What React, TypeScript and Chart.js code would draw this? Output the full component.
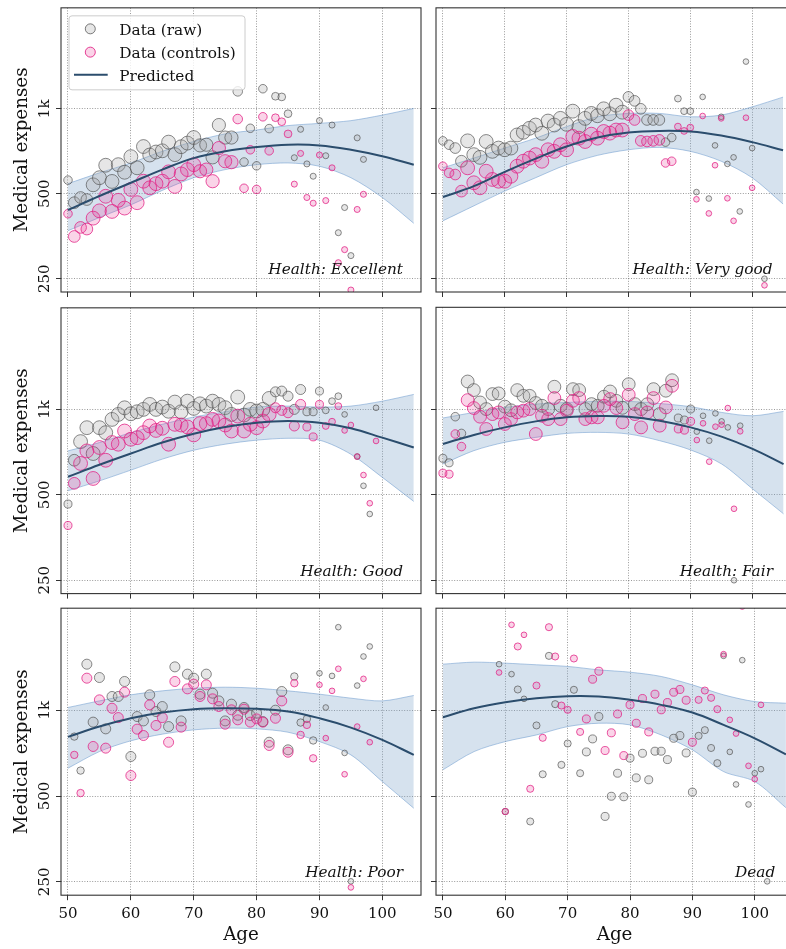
import React, { useEffect, useRef } from 'react';
import { Chart, registerables } from 'chart.js';
Chart.register(...registerables);

// ---------- axes ----------
const AGE_MIN = 48.887;
const AGE_MAX = 106.15;
const EXP_MIN = 224.4;
const EXP_MAX = 2279;
const xTickValues = [50, 60, 70, 80, 90, 100];
const xTickLabels = ['50', '60', '70', '80', '90', '100'];
const yTickValues = [250, 500, 1000];
const yTickLabels = ['250', '500', '1k'];
const curveAges = [50, 55, 60, 65, 70, 75, 80, 85, 90, 95, 100, 105];

// ---------- Health: Excellent ----------
const excellentAges = [50,51,52,53,54,55,56,57,58,59,60,61,62,63,64,65,66,67,68,69,70,71,72,73,74,75,76,77,78,79,80,81,82,83,84,85,86,87,88,89,90,91,92,93,94,95,96,97];
const excellentRaw = [559,465,485,477,538,570,631,553,634,596,677,618,735,686,703,710,762,688,734,756,791,742,746,673,876,791,791,1153,648,853,628,1178,851,1108,1102,961,671,846,638,577,908,682,876,364,447,302,789,662];
const excellentControls = [425,353,380,375,410,435,490,433,474,445,518,465,554,525,543,554,598,531,588,609,634,601,609,554,726,652,647,920,523,716,518,937,710,930,900,815,541,695,485,463,686,473,618,285,317,228,440,498];
const excellentCounts = [16,30,30,30,42,42,42,42,42,42,42,42,42,42,42,42,42,42,42,42,42,38,38,38,38,38,38,20,16,16,16,16,16,13,13,13,8,8,8,8,8,8,8,8,8,8,8,8];
const excellentPred = [438,491,547,609,669,707,732,746,742,716,679,634];
const excellentUpper = [543,593,643,707,766,815,841,872,888,908,950,1003];
const excellentLower = [370,412,457,514,570,609,634,643,626,570,485,393];

// ---------- Health: Very good ----------
const veryGoodAges = [50,51,52,53,54,55,56,57,58,59,60,61,62,63,64,65,66,67,68,69,70,71,72,73,74,75,76,77,78,79,80,81,82,83,84,85,86,87,88,89,90,91,92,93,94,95,96,97,98,99,100,101,102];
const veryGoodRaw = [770,746,726,652,770,688,673,766,707,726,716,726,808,826,853,876,819,905,876,925,881,981,865,925,963,945,1000,960,1030,973,1102,1067,1000,913,913,913,762,791,1087,981,981,507,1102,481,742,937,638,673,433,1470,726,null,250];
const veryGoodControls = [626,593,585,511,618,547,525,601,562,554,554,577,626,652,669,688,652,716,707,746,716,798,787,766,813,787,831,820,841,841,950,913,770,766,770,776,643,652,865,835,858,478,943,426,631,925,482,401,null,930,525,null,237];
const veryGoodCounts = [16,20,25,30,42,42,42,42,42,42,42,42,42,42,42,42,42,42,42,42,42,42,42,42,42,42,42,42,42,42,25,25,25,25,25,25,16,16,10,10,10,7,7,7,7,7,7,7,7,7,7,7,7];
const veryGoodPred = [487,532,598,666,735,791,824,835,831,804,762,713];
const veryGoodUpper = [618,669,726,787,865,937,963,963,937,950,1016,1100];
const veryGoodLower = [401,453,511,570,634,684,716,730,707,652,570,460];

// ---------- Health: Good ----------
const goodAges = [50,51,52,53,54,55,56,57,58,59,60,61,62,63,64,65,66,67,68,69,70,71,72,73,74,75,76,77,78,79,80,81,82,83,84,85,86,87,88,89,90,91,92,93,94,95,96,97,98,99];
const goodRaw = [464,662,770,862,699,862,828,922,960,1013,965,981,1000,1041,1000,1019,985,1061,981,1069,1008,1046,1027,1069,1041,1014,960,1105,955,1000,987,1000,1093,1153,1160,1113,1000,1175,981,981,1160,992,1069,1113,960,null,682,538,428,1013];
const goodControls = [390,549,645,714,571,734,662,764,754,839,785,795,828,874,843,858,754,886,881,867,813,891,891,922,910,881,839,947,839,886,862,910,960,1013,992,973,874,1041,867,800,1041,874,905,1027,843,881,682,587,467,774];
const goodCounts = [14,30,42,42,42,42,42,42,42,42,42,42,42,42,42,42,42,42,42,42,42,42,42,42,42,42,42,42,42,42,42,42,42,22,22,22,22,22,14,14,14,10,10,10,7,7,7,7,7,7];
const goodPred = [579,638,699,764,821,867,898,910,898,858,795,734];
const goodUpper = [714,764,828,886,940,981,1019,1027,1019,1027,1069,1129];
const goodLower = [517,560,611,668,718,754,779,791,779,695,576,474];

// ---------- Health: Fair ----------
const fairAges = [50,51,52,53,54,55,56,57,58,59,60,61,62,63,64,65,66,67,68,69,70,71,72,73,74,75,76,77,78,79,80,81,82,83,84,85,86,87,88,89,90,91,92,93,94,95,96,97,98];
const fairRaw = [671,647,940,821,1250,1166,1055,1000,1129,1135,1020,990,1166,1113,1113,1050,1027,1000,1198,1027,1000,1175,1166,1000,1041,1027,1105,1153,1069,1010,1223,1041,1000,1040,1175,960,1160,1263,930,915,1000,833,947,774,966,905,862,250,874];
const fairControls = [595,590,817,738,1075,1008,940,851,960,973,886,922,973,987,1000,817,947,922,1093,922,987,1069,1093,922,935,935,1027,1084,1008,898,1123,960,862,973,1093,874,1013,1207,851,843,905,778,891,653,867,881,1008,446,835];
const fairCounts = [14,14,16,16,36,36,36,36,36,36,36,36,36,36,36,36,36,36,36,36,36,36,36,36,36,36,36,36,36,36,36,36,36,36,36,36,36,36,14,14,14,7,7,7,7,7,7,7,7];
const fairPred = [754,811,862,905,935,945,940,910,862,800,724,640];
const fairUpper = [930,973,1013,1041,1055,1064,1064,1046,1019,973,947,981];
const fairLower = [641,714,764,795,821,828,817,774,718,641,524,428];

// ---------- Health: Poor ----------
const poorAges = [51,52,53,54,55,56,57,58,59,60,61,62,63,64,65,66,67,68,69,70,71,72,73,74,75,76,77,78,79,80,81,82,83,84,85,86,87,88,89,90,91,92,93,94,95,96,97,98];
const poorRaw = [808,614,1450,908,1302,860,1117,1117,1261,688,950,917,1132,989,1030,876,1419,917,1338,1295,1138,1338,1147,1078,917,1050,960,1022,958,976,912,772,1000,1163,726,1313,905,932,783,1348,1022,1319,1955,708,251,1220,1543,1673];
const poorControls = [697,512,1295,746,1087,736,1016,942,1157,590,858,815,1044,884,942,772,1261,872,1188,1234,1117,1227,1096,1030,893,1003,925,1008,908,932,908,752,937,1078,712,1243,819,888,678,1227,798,1169,1397,596,239,876,1288,772];
const poorCounts = [12,12,22,22,22,22,22,22,22,22,22,22,22,22,22,22,22,22,22,22,22,22,22,22,22,22,22,22,22,22,22,22,22,22,22,12,12,12,12,7,7,7,7,7,7,7,7,7];
const poorPred = [806,876,937,981,1008,1016,1011,989,937,869,787,697];
const poorUpper = [1022,1078,1132,1169,1194,1204,1194,1169,1138,1102,1078,1126];
const poorLower = [626,716,781,824,853,865,860,837,776,697,562,453];

// ---------- Dead ----------
const deadAges = [59,60,61,62,63,64,65,66,67,68,69,70,71,72,73,74,75,76,77,78,79,80,81,82,83,84,85,86,87,88,89,90,91,92,93,94,95,96,97,98,99,100,101,102];
const deadRaw = [1450,441,1338,1182,1096,407,884,596,1551,1050,643,764,1179,601,714,793,950,424,499,601,497,679,579,706,570,718,718,671,797,815,708,516,813,851,737,652,1551,714,549,1498,467,601,621,251];
const deadControls = [1356,441,1993,1673,1838,530,1220,800,1955,1543,1038,1003,1518,839,932,1284,1370,722,833,970,693,1044,900,1099,839,1138,1003,1064,1156,1182,1084,772,1087,1172,1105,1008,1572,925,828,2310,638,573,1044,null];
const deadCounts = [7,9,7,11,7,11,11,11,11,11,11,11,11,11,14,14,14,14,14,14,14,14,14,14,14,14,14,14,14,14,14,14,11,11,11,11,7,7,7,7,7,7,7,7];
const deadPred = [945,1016,1067,1102,1120,1117,1087,1044,981,888,797,700];
const deadUpper = [1450,1474,1462,1443,1424,1385,1359,1313,1227,1132,1072,1058];
const deadLower = [618,716,776,819,876,900,888,819,726,609,562,455];

const legendLabels = ['Data (raw)', 'Data (controls)', 'Predicted'];

type Panel = {
  label: string; ages: number[]; raw: (number | null)[]; controls: (number | null)[];
  counts: number[]; pred: number[]; upper: number[]; lower: number[]; row: number; col: number;
};

const panels: Panel[] = [
  { label: 'Health: Excellent', ages: excellentAges, raw: excellentRaw, controls: excellentControls, counts: excellentCounts, pred: excellentPred, upper: excellentUpper, lower: excellentLower, row: 0, col: 0 },
  { label: 'Health: Very good', ages: veryGoodAges, raw: veryGoodRaw, controls: veryGoodControls, counts: veryGoodCounts, pred: veryGoodPred, upper: veryGoodUpper, lower: veryGoodLower, row: 0, col: 1 },
  { label: 'Health: Good', ages: goodAges, raw: goodRaw, controls: goodControls, counts: goodCounts, pred: goodPred, upper: goodUpper, lower: goodLower, row: 1, col: 0 },
  { label: 'Health: Fair', ages: fairAges, raw: fairRaw, controls: fairControls, counts: fairCounts, pred: fairPred, upper: fairUpper, lower: fairLower, row: 1, col: 1 },
  { label: 'Health: Poor', ages: poorAges, raw: poorRaw, controls: poorControls, counts: poorCounts, pred: poorPred, upper: poorUpper, lower: poorLower, row: 2, col: 0 },
  { label: 'Dead', ages: deadAges, raw: deadRaw, controls: deadControls, counts: deadCounts, pred: deadPred, upper: deadUpper, lower: deadLower, row: 2, col: 1 },
];

// ---------- style ----------
const RAW_FILL = 'rgba(165,165,165,0.28)';
const RAW_EDGE = 'rgba(80,80,80,0.75)';
const CTRL_FILL = 'rgba(231,41,138,0.2)';
const CTRL_EDGE = 'rgba(226,32,132,0.85)';
const BAND_FILL = 'rgba(120,160,200,0.30)';
const BAND_EDGE = 'rgba(110,155,205,0.55)';
const LINE_COLOR = '#2b4d6d';
const SERIF = '"DejaVu Serif", serif';
const RADIUS_SCALE = 1.07;

const PLOT_W = 360;
const PLOT_H = 287;
const colGeom = [
  { canvasLeft: 0, canvasW: 430, areaLeft: 61 },
  { canvasLeft: 428, canvasW: 370, areaLeft: 8 },
];
const rowGeom = [
  { canvasTop: 0, canvasH: 300, areaTop: 5 },
  { canvasTop: 300, canvasH: 302, areaTop: 6.6 },
  { canvasTop: 600, canvasH: 349, areaTop: 8.2 },
];

function points(ages: number[], vals: (number | null)[], counts: number[]) {
  const data: { x: number; y: number }[] = [];
  const radii: number[] = [];
  ages.forEach((a, i) => {
    const v = vals[i];
    if (v == null) return;
    data.push({ x: a, y: v });
    radii.push(Math.sqrt(counts[i]) * RADIUS_SCALE);
  });
  return { data, radii };
}

function PanelChart({ p, index }: { p: Panel; index: number }) {
  const ref = useRef<HTMLCanvasElement>(null);
  const cg = colGeom[p.col];
  const rg = rowGeom[p.row];
  useEffect(() => {
    if (!ref.current) return;
    const raw = points(p.ages, p.raw, p.counts);
    const ctrl = points(p.ages, p.controls, p.counts);
    const curve = (vals: number[]) => curveAges.map((a, i) => ({ x: a, y: vals[i] }));
    const padRight = cg.canvasW - cg.areaLeft - PLOT_W;
    const xAxisH = rg.canvasH - rg.areaTop - PLOT_H;

    const decor = {
      id: 'decor' + index,
      afterDraw(chart: any) {
        const { ctx, chartArea: a, scales } = chart;
        const x = scales.x, y = scales.y;
        ctx.save();
        ctx.strokeStyle = '#333';
        ctx.lineWidth = 1.1;
        ctx.setLineDash([]);
        ctx.strokeRect(a.left, a.top, a.right - a.left, a.bottom - a.top);
        ctx.fillStyle = '#111';
        ctx.font = 'italic 15.3px ' + SERIF;
        ctx.textAlign = 'right';
        ctx.textBaseline = 'alphabetic';
        ctx.fillText(p.label, a.left + 0.95 * (a.right - a.left), a.bottom - 0.05 * (a.bottom - a.top) - 3.6);
        if (p.col === 0) {
          ctx.font = '15px ' + SERIF;
          ctx.textAlign = 'center';
          yTickValues.forEach((v, i) => {
            const py = y.getPixelForValue(v);
            ctx.save();
            ctx.translate(a.left - 12.2, py);
            ctx.rotate(-Math.PI / 2);
            ctx.fillText(yTickLabels[i], 0, 0);
            ctx.restore();
          });
          ctx.font = '18.3px ' + SERIF;
          ctx.save();
          ctx.translate(a.left - 34.2, (a.top + a.bottom) / 2);
          ctx.rotate(-Math.PI / 2);
          ctx.fillText('Medical expenses', 0, 0);
          ctx.restore();
        }
        if (p.row === 2) {
          ctx.font = '15px ' + SERIF;
          ctx.textAlign = 'center';
          xTickValues.forEach((v, i) => {
            ctx.fillText(xTickLabels[i], x.getPixelForValue(v), a.bottom + 22.5);
          });
          ctx.font = '18.3px ' + SERIF;
          ctx.fillText('Age', (a.left + a.right) / 2, a.bottom + 45);
        }
        if (index === 0) {
          const bx = a.left + 8, by = a.top + 8, bw = 176, bh = 74;
          ctx.beginPath();
          if (ctx.roundRect) ctx.roundRect(bx, by, bw, bh, 3); else ctx.rect(bx, by, bw, bh);
          ctx.fillStyle = 'rgba(255,255,255,0.8)';
          ctx.fill();
          ctx.strokeStyle = '#cccccc';
          ctx.lineWidth = 1;
          ctx.stroke();
          const rows = [a.top + 21, a.top + 44.3, a.top + 67];
          const mx = a.left + 29.3;
          [[RAW_FILL, RAW_EDGE], [CTRL_FILL, CTRL_EDGE]].forEach(([f, e], i) => {
            ctx.beginPath();
            ctx.arc(mx, rows[i], 5, 0, Math.PI * 2);
            ctx.fillStyle = f; ctx.fill();
            ctx.strokeStyle = e; ctx.lineWidth = 1; ctx.stroke();
          });
          ctx.beginPath();
          ctx.moveTo(a.left + 13, rows[2]);
          ctx.lineTo(a.left + 46.7, rows[2]);
          ctx.strokeStyle = LINE_COLOR; ctx.lineWidth = 2; ctx.stroke();
          ctx.fillStyle = '#111';
          ctx.font = '15.3px ' + SERIF;
          ctx.textAlign = 'left';
          legendLabels.forEach((t, i) => ctx.fillText(t, a.left + 58.3, rows[i] + 5.7));
        }
        ctx.restore();
      },
    };

    const gridOpts = { color: 'rgba(0,0,0,0.5)', lineWidth: 0.8, drawTicks: true, tickLength: 5, tickColor: '#333', tickWidth: 1 };
    const borderOpts = { display: false, dash: [1, 1.6] };

    const chart = new Chart(ref.current, {
      type: 'scatter',
      data: {
        datasets: [
          { type: 'line', label: 'Predicted', data: curve(p.pred), borderColor: LINE_COLOR, borderWidth: 2, pointRadius: 0, tension: 0.4, fill: false, order: 0, clip: 0 } as any,
          { label: 'Data (controls)', data: ctrl.data, pointRadius: ctrl.radii, pointBackgroundColor: CTRL_FILL, pointBorderColor: CTRL_EDGE, pointBorderWidth: 0.9, order: 1, clip: 0 } as any,
          { label: 'Data (raw)', data: raw.data, pointRadius: raw.radii, pointBackgroundColor: RAW_FILL, pointBorderColor: RAW_EDGE, pointBorderWidth: 0.9, order: 2, clip: 0 } as any,
          { type: 'line', label: 'lower', data: curve(p.lower), borderColor: BAND_EDGE, borderWidth: 1, pointRadius: 0, tension: 0.3, fill: false, order: 3, clip: 0 } as any,
          { type: 'line', label: 'upper', data: curve(p.upper), borderColor: BAND_EDGE, borderWidth: 1, pointRadius: 0, tension: 0.3, fill: 3, backgroundColor: BAND_FILL, order: 3, clip: 0 } as any,
        ],
      },
      options: {
        responsive: false,
        animation: false,
        devicePixelRatio: 1,
        events: [],
        layout: { padding: { left: 0, right: padRight, top: rg.areaTop, bottom: 0 } },
        plugins: { legend: { display: false }, tooltip: { enabled: false } },
        scales: {
          x: {
            type: 'linear', min: AGE_MIN, max: AGE_MAX,
            afterBuildTicks: (s: any) => { s.ticks = xTickValues.map((v) => ({ value: v })); },
            afterFit: (s: any) => { s.height = xAxisH; },
            ticks: { display: false },
            grid: gridOpts, border: borderOpts,
          },
          y: {
            type: 'logarithmic', min: EXP_MIN, max: EXP_MAX,
            afterBuildTicks: (s: any) => { s.ticks = yTickValues.map((v) => ({ value: v })); },
            afterFit: (s: any) => { s.width = cg.areaLeft; },
            ticks: { display: false },
            grid: gridOpts, border: borderOpts,
          },
        },
      } as any,
      plugins: [decor],
    });
    return () => chart.destroy();
  }, []);
  return (
    <canvas
      ref={ref}
      width={cg.canvasW}
      height={rg.canvasH}
      style={{ position: 'absolute', left: cg.canvasLeft, top: rg.canvasTop, width: cg.canvasW, height: rg.canvasH }}
    />
  );
}

export default function App() {
  return (
    <div style={{ position: 'fixed', left: 0, top: 0, width: 786, height: 949, overflow: 'hidden', background: '#fff' }}>
      {panels.map((p, i) => (
        <PanelChart key={i} p={p} index={i} />
      ))}
    </div>
  );
}
